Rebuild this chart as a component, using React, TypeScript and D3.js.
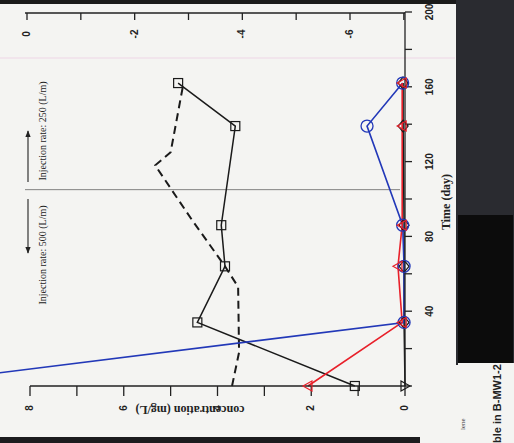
import React from "react";
import * as d3 from "d3";

// ---- data (time in days, concentration in mg/L) ----
const squareTimes = [0, 34, 64, 86, 139, 162];
const squareConc = [1.07, 4.43, 3.84, 3.92, 3.62, 4.84];

const dashedTimes = [0, 18, 53, 64, 89, 118, 125, 160];
const dashedConc = [3.69, 3.54, 3.56, 3.84, 4.55, 5.33, 5.0, 4.74];

const blueTimes = [0, 34, 64, 86, 139, 162];
const blueConc = [10.9, 0.02, 0.02, 0.05, 0.81, 0.05];

const redTimes = [0, 34, 64, 86, 139, 162];
const redConc = [2.07, 0.06, 0.15, 0.06, 0.06, 0.06];

const lowTimes = [0, 34, 64, 86, 139, 162];
const lowConc = [0.0, 0.02, 0.02, 0.02, 0.04, 0.04];

const timeTicks = [0, 20, 40, 60, 80, 100, 120, 140, 160, 180, 200];
const timeLabels = ["40", "80", "120", "160", "200"];
const concTicks = [0, 1, 2, 3, 4, 5, 6, 7, 8];
const concLabels = ["0", "2", "4", "6", "8"];
const topTicks = [0, -1, -2, -3, -4, -5, -6, -7];
const topLabels = ["0", "-2", "-4", "-6"];

const injectionSwitchDay = 105;
const label250 = "Injection rate: 250 (L/m)";
const label500 = "Injection rate: 500 (L/m)";

export default function App() {
  const W = 514, H = 443;
  const x = d3.scaleLinear().domain([0, 8]).range([405, 30]);
  const y = d3.scaleLinear().domain([0, 200]).range([386, 12]);
  const xTop = d3.scaleLinear().domain([0, -6]).range([27, 350]);

  const mk = (ts: number[], cs: number[]) =>
    ts.map((t, i) => [x(cs[i]), y(t)] as [number, number]);
  const line = d3.line<[number, number]>();

  const sq = mk(squareTimes, squareConc);
  const da = mk(dashedTimes, dashedConc);
  const bl = mk(blueTimes, blueConc);
  const rd = mk(redTimes, redConc);
  const lo = mk(lowTimes, lowConc);

  const tickFont = "'Liberation Sans', Arial, sans-serif";
  const serif = "'Liberation Serif', 'Times New Roman', serif";
  const ySw = y(injectionSwitchDay);

  return (
    <svg width={W} height={H} style={{ position: "absolute", left: 0, top: 0 }}>
      <defs>
        <marker id="ah" viewBox="0 0 10 10" refX="9" refY="5" markerWidth="6" markerHeight="6" orient="auto">
          <path d="M0,1 L10,5 L0,9 Z" fill="#222" />
        </marker>
      </defs>
      <rect x={0} y={0} width={W} height={H} fill="#f4f4f2" />
      {/* scan borders */}
      <rect x={0} y={0} width={456} height={4} fill="#1a1a1a" />
      <rect x={0} y={437} width={420} height={6} fill="#1c1c1e" />
      <rect x={456} y={0} width={58} height={365} fill="#2a2b30" />
      <rect x={458} y={215} width={55} height={148} fill="#0c0c0c" />
      <line x1={0} x2={455} y1={58} y2={58} stroke="#eed6e6" strokeWidth={1} />

      {/* top axis (other panel) */}
      <line x1={25} x2={405} y1={13} y2={13} stroke="#222" strokeWidth={1.3} />
      {topTicks.map((v) => (
        <line key={v} x1={xTop(v)} x2={xTop(v)} y1={13} y2={20} stroke="#222" strokeWidth={1.3} />
      ))}
      {topLabels.map((l) => (
        <text key={l} transform={`translate(${xTop(+l) + 3},34) rotate(-90)`} textAnchor="middle"
          fontFamily={tickFont} fontWeight="bold" fontSize={10} fill="#222">{l}</text>
      ))}

      {/* injection divider */}
      <line x1={25} x2={400} y1={ySw} y2={ySw} stroke="#666" strokeWidth={0.8} />
      <line x1={28} x2={28} y1={182} y2={131} stroke="#222" strokeWidth={1.1} markerEnd="url(#ah)" />
      <line x1={28} x2={28} y1={199} y2={253} stroke="#222" strokeWidth={1.1} markerEnd="url(#ah)" />
      <text transform={`translate(46,131) rotate(-90)`} textAnchor="middle" fontFamily={serif} fontSize={10} fill="#222">{label250}</text>
      <text transform={`translate(46,255) rotate(-90)`} textAnchor="middle" fontFamily={serif} fontSize={10} fill="#222">{label500}</text>

      {/* data lines */}
      <path d={line(da) || ""} fill="none" stroke="#1a1a1a" strokeWidth={2} strokeDasharray="8,5" />
      <path d={line(sq) || ""} fill="none" stroke="#1a1a1a" strokeWidth={1.5} />
      <path d={line(lo) || ""} fill="none" stroke="#1a1a1a" strokeWidth={1.5} />
      <path d={line(bl) || ""} fill="none" stroke="#2238b8" strokeWidth={1.6} />
      <path d={line(rd) || ""} fill="none" stroke="#e8202a" strokeWidth={1.6} />

      {/* axes of main chart */}
      <line x1={405} x2={405} y1={12} y2={386} stroke="#222" strokeWidth={1.3} />
      {timeTicks.map((t) => (
        <line key={t} x1={405} x2={412} y1={y(t)} y2={y(t)} stroke="#222" strokeWidth={1.3} />
      ))}
      {timeLabels.map((l) => (
        <text key={l} transform={`translate(${433},${y(+l)}) rotate(-90)`} textAnchor="middle"
          fontFamily={tickFont} fontWeight="bold" fontSize={10} fill="#222">{l}</text>
      ))}
      <line x1={30} x2={405} y1={386} y2={386} stroke="#222" strokeWidth={1.3} />
      {concTicks.map((c) => (
        <line key={c} x1={x(c)} x2={x(c)} y1={386} y2={396} stroke="#222" strokeWidth={1.3} />
      ))}
      {concLabels.map((l) => (
        <text key={l} transform={`translate(${x(+l) + 3},${408}) rotate(-90)`} textAnchor="middle"
          fontFamily={tickFont} fontWeight="bold" fontSize={10} fill="#222">{l}</text>
      ))}
      <text transform={`translate(190,406) rotate(180)`} textAnchor="middle" fontFamily={serif}
        fontWeight="bold" fontSize={12} fill="#222">concentration (mg/L)</text>
      <text transform={`translate(450,202) rotate(-90)`} textAnchor="middle" fontFamily={serif}
        fontWeight="bold" fontSize={12} fill="#222">Time (day)</text>

      {/* markers */}
      {sq.map(([px, py], i) => (
        <rect key={"s" + i} x={px - 4.5} y={py - 4.5} width={9} height={9} fill="none" stroke="#1a1a1a" strokeWidth={1.2} />
      ))}
      {lo.map(([px, py], i) =>
        i === 0 ? (
          <path key={"l" + i} d={`M${px + 5},${py} L${px - 4},${py - 5} L${px - 4},${py + 5} Z`} fill="none" stroke="#1a1a1a" strokeWidth={1.2} />
        ) : (
          <path key={"l" + i} d={`M${px},${py - 6} L${px + 5},${py} L${px},${py + 6} L${px - 5},${py} Z`} fill="none" stroke="#1a1a1a" strokeWidth={1.2} />
        )
      )}
      {bl.slice(1).map(([px, py], i) => (
        <circle key={"b" + i} cx={px} cy={py} r={6} fill="none" stroke="#2238b8" strokeWidth={1.3} />
      ))}
      {rd.map(([px, py], i) => (
        <path key={"r" + i} d={`M${px - 5},${py} L${px + 4},${py - 5} L${px + 4},${py + 5} Z`} fill="none" stroke="#e8202a" strokeWidth={1.2} />
      ))}

      {/* right-hand scan fragment */}
      <rect x={458} y={363} width={56} height={80} fill="#f4f4f2" />
      <text transform={`translate(501,443) rotate(-90)`} textAnchor="start" fontFamily={tickFont}
        fontWeight="bold" fontSize={11} fill="#222">ble in B-MW1-2</text>
      <text transform={`translate(465,430) rotate(-90)`} textAnchor="start" fontFamily={serif}
        fontSize={7} fill="#444">lene</text>
    </svg>
  );
}
